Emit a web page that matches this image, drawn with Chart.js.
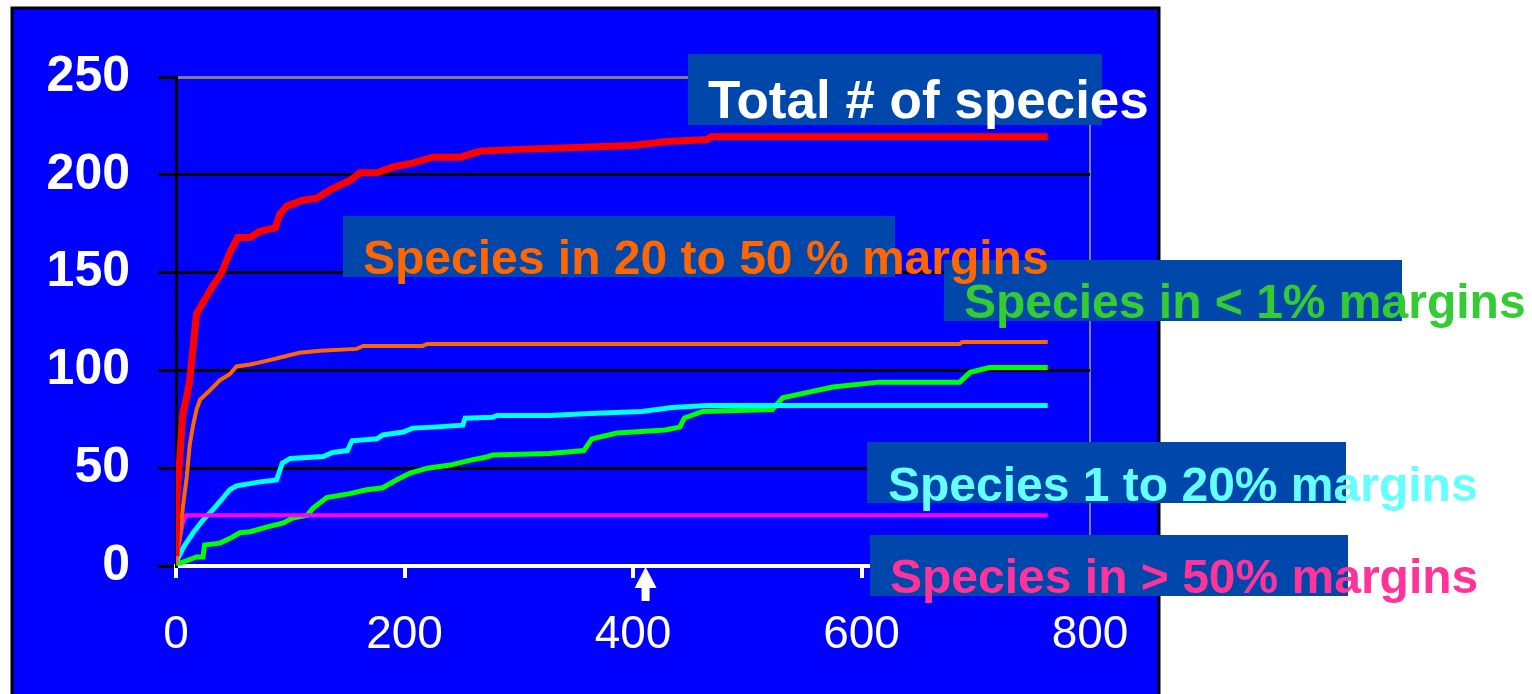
<!DOCTYPE html>
<html>
<head>
<meta charset="utf-8">
<script src="https://cdn.jsdelivr.net/npm/chart.js@4.4.1/dist/chart.umd.min.js"></script>
<style>
  html, body { margin: 0; padding: 0; background: #ffffff; }
  #wrap { width: 1532px; height: 694px; position: relative; }
</style>
</head>
<body>
<div id="wrap"><canvas id="speciesPlot"></canvas></div>
<script>
// values (x = sample count, y = number of species)
const totalX = [0, 1, 2, 6, 10, 12, 18, 25, 32, 40, 47, 54, 65, 73, 87, 91, 97, 111, 123, 137, 152, 161, 176, 190, 207, 225, 249, 266, 300, 350, 400, 430, 465, 468, 763];
const totalY = [5, 38, 44, 78, 88, 95, 129, 136, 143, 150, 160, 168, 168, 171, 173, 180, 184, 187, 188, 193, 197, 201, 201, 204, 206, 209, 209, 212, 213, 214, 215, 217, 218, 219.5, 219.5];

const midX = [0, 4, 6, 9.5, 12, 15, 18, 21, 30, 38.5, 47, 53, 65, 80, 94, 108, 126, 158, 164, 216, 220, 686, 688, 763];
const midY = [1, 18, 30, 46, 62, 72, 80, 85, 90, 95, 98, 102, 103, 105, 107, 109, 110, 111, 112.5, 112.5, 113.5, 113.5, 114.5, 114.5];

const highX = [0, 3, 6, 9, 763];
const highY = [5, 13, 22, 26, 26];

const lowX = [0, 7, 15, 23.6, 32, 40, 47, 53, 73.5, 88, 93, 100, 129, 137, 150, 154, 176, 181, 199, 207, 225, 251, 253, 277, 281, 327, 362, 408, 434, 465, 763];
const lowY = [2, 10, 17, 23.5, 28.6, 34, 39, 41, 43, 44, 52.6, 55, 56, 58, 59, 64, 65, 67, 68.5, 70.5, 71, 72, 75.6, 76, 77, 77, 78, 79, 81, 82, 82];

const rareX = [0, 6, 18, 23.6, 25, 38.5, 47, 56, 65, 80, 94, 102, 115, 120, 132, 152, 167, 181, 193, 205, 220, 240, 257, 272, 277, 327, 357, 364, 386, 428, 441, 445, 461, 522, 531, 555, 575, 615, 686, 695, 712, 763];
const rareY = [1, 2, 4.6, 4.6, 10.7, 11.7, 14, 17, 17.5, 20, 22, 24.5, 26, 29.6, 35, 37, 39, 40, 44, 47.5, 50, 51.6, 54, 55.7, 56.7, 57.5, 59, 65, 68, 69.5, 71, 75.7, 79, 80, 86, 89, 91.5, 94, 94, 99, 101.5, 101.5];

const xTicks = [0, 200, 400, 600, 800];
const yTicks = [0, 50, 100, 150, 200, 250];
const arrowX = 411;

const pts = (xs, ys) => xs.map((x, i) => ({ x: x, y: ys[i] }));

// text boxes laid over the plot
const notes = [
    { text: 'Total # of species', color: '#FFFFFF', size: 53, box: [688, 54, 1102, 125], x: 708, y: 118 },
    { text: 'Species in 20 to 50 % margins', color: '#FF6600', size: 48, box: [343, 216, 895, 277], x: 363, y: 274 },
    { text: 'Species in < 1% margins', color: '#33CC33', size: 48, box: [944, 260, 1402, 321], x: 964, y: 318 },
    { text: 'Species 1 to 20% margins', color: '#66FFFF', size: 48, box: [867, 442, 1346, 503], x: 888, y: 501 },
    { text: 'Species in > 50% margins', color: '#FF3399', size: 48, box: [870, 535, 1348, 596], x: 890, y: 593 }
];

const FONT = '"Liberation Sans", Arial, sans-serif';

const backdrop = {
    id: 'backdrop',
    beforeDraw(chart) {
        const c = chart.ctx;
        c.save();
        c.fillStyle = '#0000FF';
        c.fillRect(12, 8, 1147, 700);
        c.strokeStyle = '#000000';
        c.lineWidth = 3;
        c.strokeRect(12, 8, 1147, 700);
        c.restore();
    },
    afterDraw(chart) {
        const c = chart.ctx;
        c.save();
        // arrow under the x axis
        const ax = chart.scales.x.getPixelForValue(arrowX);
        const ay = chart.scales.y.getPixelForValue(0) + 1;
        c.fillStyle = '#FFFFFF';
        c.beginPath();
        c.moveTo(ax, ay);
        c.lineTo(ax + 11, ay + 21);
        c.lineTo(ax + 4, ay + 21);
        c.lineTo(ax + 4, ay + 34);
        c.lineTo(ax - 4, ay + 34);
        c.lineTo(ax - 4, ay + 21);
        c.lineTo(ax - 11, ay + 21);
        c.closePath();
        c.fill();
        // labels
        notes.forEach(n => {
            c.fillStyle = '#0047AB';
            c.fillRect(n.box[0], n.box[1], n.box[2] - n.box[0], n.box[3] - n.box[1]);
        });
        notes.forEach(n => {
            c.font = 'bold ' + n.size + 'px ' + FONT;
            c.textBaseline = 'alphabetic';
            c.textAlign = 'left';
            c.fillStyle = n.color;
            c.fillText(n.text, n.x, n.y);
        });
        c.restore();
    }
};

const config = {
    type: 'line',
    data: {
        datasets: [
            { label: 'Total', data: pts(totalX, totalY), borderColor: '#FF0000', borderWidth: 7 },
            { label: '20 to 50 %', data: pts(midX, midY), borderColor: '#FF6600', borderWidth: 4 },
            { label: '> 50%', data: pts(highX, highY), borderColor: '#FF00FF', borderWidth: 4 },
            { label: '1 to 20%', data: pts(lowX, lowY), borderColor: '#00FFFF', borderWidth: 5 },
            { label: '< 1%', data: pts(rareX, rareY), borderColor: '#00FF00', borderWidth: 5 }
        ]
    },
    options: {
        responsive: true,
        maintainAspectRatio: false,
        animation: false,
        parsing: false,
        elements: { point: { radius: 0 }, line: { tension: 0, borderJoinStyle: 'miter', borderCapStyle: 'butt' } },
        layout: { padding: { top: 77, right: 442, left: 0, bottom: 0 } },
        plugins: { legend: { display: false }, tooltip: { enabled: false } },
        scales: {
            x: {
                type: 'linear',
                min: 0,
                max: 800,
                afterBuildTicks: (s) => { s.ticks = xTicks.map(v => ({ value: v })); },
                afterFit: (s) => { s.height = 128; },
                border: { color: '#FFFFFF', width: 4 },
                grid: {
                    color: (c) => (c.tick && c.tick.value === 800) ? '#808080' : 'rgba(0,0,0,0)',
                    lineWidth: 2,
                    tickColor: '#FFFFFF',
                    tickWidth: 4,
                    tickLength: 12
                },
                ticks: {
                    color: '#FFFFFF',
                    padding: 30,
                    maxRotation: 0,
                    font: { family: FONT, size: 46 }
                }
            },
            y: {
                type: 'linear',
                min: 0,
                max: 250,
                afterBuildTicks: (s) => { s.ticks = yTicks.map(v => ({ value: v })); },
                afterFit: (s) => { s.width = 176; },
                border: { color: '#000000', width: 3 },
                grid: {
                    color: (c) => {
                        if (!c.tick) return '#000000';
                        if (c.tick.value === 250) return '#808080';
                        if (c.tick.value === 0) return 'rgba(0,0,0,0)';
                        return '#000000';
                    },
                    lineWidth: 3,
                    tickColor: '#000000',
                    tickWidth: 3,
                    tickLength: 18
                },
                ticks: {
                    color: '#FFFFFF',
                    padding: 28,
                    font: { family: FONT, size: 50, weight: 'bold' }
                }
            }
        }
    },
    plugins: [backdrop]
};

new Chart(document.getElementById('speciesPlot'), config);
</script>
</body>
</html>
